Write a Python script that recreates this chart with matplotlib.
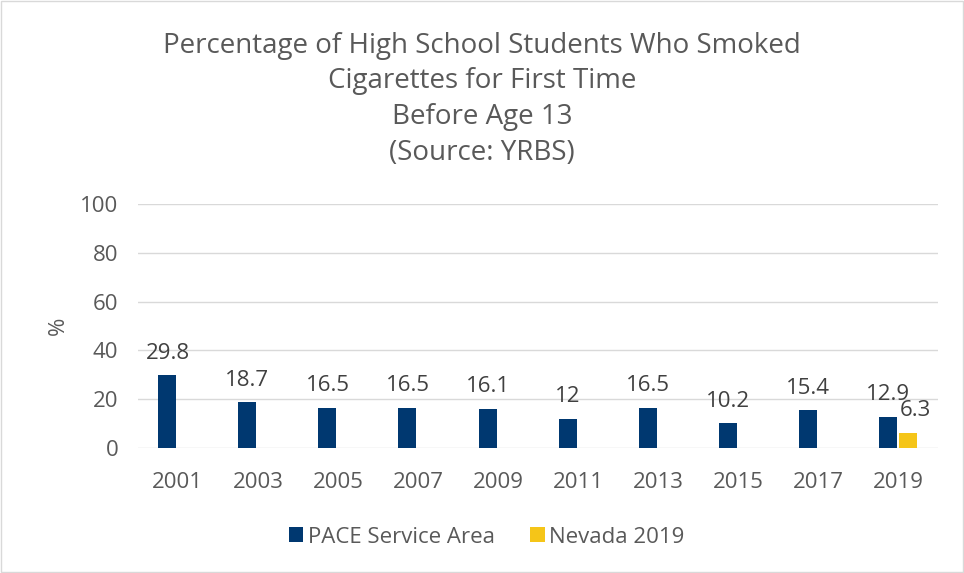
import numpy as np
import matplotlib.pyplot as plt

plt.rcParams['font.family'] = ['Open Sans', 'DejaVu Sans']

years = ['2001', '2003', '2005', '2007', '2009', '2011', '2013', '2015', '2017', '2019']
pace = [29.8, 18.7, 16.5, 16.5, 16.1, 12, 16.5, 10.2, 15.4, 12.9]
nevada_2019 = [6.3]

grey = '#595959'
navy = '#003870'
gold = '#f5c518'

fig = plt.figure(figsize=(9.64, 5.73), dpi=100)
ax = fig.add_axes([0.143, 0.218, 0.83, 0.426])

x = np.arange(len(years))
w = 0.225
b1 = ax.bar(x - 0.13, pace, w, color=navy, label='PACE Service Area', zorder=3)
b2 = ax.bar(x[-1:] + 0.13, nevada_2019, w, color=gold, label='Nevada 2019', zorder=3)

# data labels (the Nevada one sits a little to the right, like in the original)
for bars, vals, dx in [(b1, pace, 0), (b2, nevada_2019, 5)]:
    for r, v in zip(bars, vals):
        ax.annotate('{:g}'.format(v), (r.get_x() + r.get_width() / 2, r.get_height()),
                    xytext=(dx, 12), textcoords='offset points', ha='center', va='baseline',
                    fontsize=16, color='#404040')

ax.set_ylim(0, 100)
ax.set_yticks(range(0, 101, 20))
ax.set_xlim(-0.5, len(years) - 0.5)
ax.set_xticks(x)
ax.set_xticklabels(years)
ax.grid(axis='y', color='#d9d9d9', linewidth=1, zorder=0)
for s in ax.spines.values():
    s.set_visible(False)
ax.tick_params(length=0, labelsize=16, labelcolor=grey)
ax.tick_params(axis='x', pad=17)
ax.tick_params(axis='y', pad=14)
ax.set_ylabel('%', fontsize=16, color=grey, labelpad=8)

fig.suptitle('Percentage of High School Students Who Smoked\nCigarettes for First Time\nBefore Age 13\n(Source: YRBS)',
             fontsize=20, color=grey, y=0.945, linespacing=1.38)

leg = ax.legend(loc='upper center', bbox_to_anchor=(0.436, -0.24), ncol=2, frameon=False,
                fontsize=16, handlelength=0.65, handleheight=0.65, handletextpad=0.2,
                columnspacing=1.6)
for t in leg.get_texts():
    t.set_color(grey)

fig.patches.append(plt.Rectangle((0.001, 0.001), 0.998, 0.998, transform=fig.transFigure,
                                 fill=False, edgecolor='#d9d9d9', linewidth=1))

fig.savefig('out.png', dpi=100)
